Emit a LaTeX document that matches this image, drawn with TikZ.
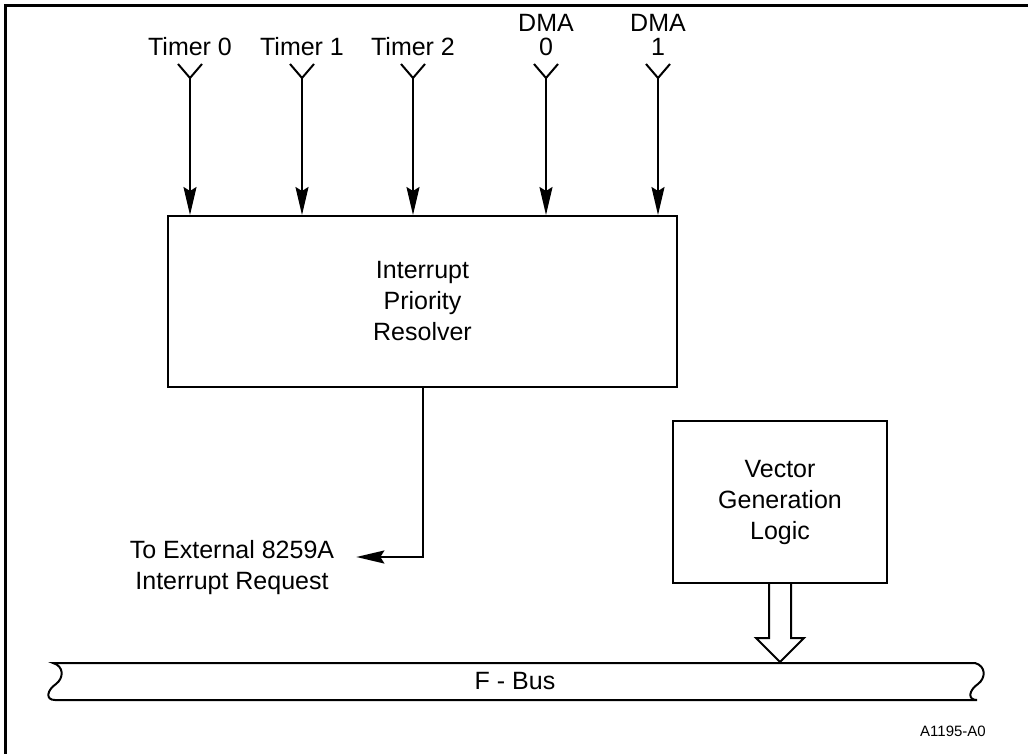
\documentclass[tikz,border=0pt]{standalone}
\usepackage{fontspec}
\setmainfont{Liberation Sans}
\usetikzlibrary{arrows.meta,positioning,calc}

\begin{document}
\begin{tikzpicture}[x=1pt, y=-1pt, >={Stealth[length=28pt, width=13pt, inset=4pt]},
    block/.style={rectangle, draw, line width=2pt, align=center, font=\fontsize{25}{31}\selectfont},
    lbl/.style={align=center, inner sep=0pt, font=\fontsize{25}{24}\selectfont},
    wire/.style={line width=2pt}]
    \useasboundingbox (0,0) rectangle (1028,754);
    \draw [line width=3pt] (5,754) -- (5,6) -- (1028,6);

    \node [block, minimum width=509pt, minimum height=171pt] (ipr) at (422.5,301.5) {Interrupt\\Priority\\Resolver};
    \node [block, minimum width=214pt, minimum height=162pt] (vgl) at (780,502) {Vector\\Generation\\Logic};

    % interrupt sources
    \foreach \px/\nm/\txt in {190/t0/{Timer 0}, 302/t1/{Timer 1}, 413/t2/{Timer 2}, 546/d0/{DMA\\0}, 658/d1/{DMA\\1}} {
        \node [lbl, anchor=south] (\nm) at (\px,56) {\txt};
        \coordinate (\nm-f) at (\px,78);
        \draw [wire] ($(\nm-f)+(-12,-14)$) -- (\nm-f) -- ++(12,-14);
        \draw [wire, ->] (\nm-f) -- (\nm-f |- ipr.north);
    }

    \node [lbl] (ext) at (232,568) {To External 8259A\\[7pt]Interrupt Request};
    \draw [wire, ->] (ipr.south) |- ([xshift=22pt, yshift=11pt]ext.east);

    % bus
    \draw [wire] (53,663) -- (975,663) .. controls (986,666) and (986,678) .. (978,684)
        .. controls (969,690) and (967,700) .. (977,700) -- (55,700)
        .. controls (45,700) and (47,690) .. (56,684)
        .. controls (64,678) and (64,666) .. (53,663) -- cycle;
    \node [lbl] (fbus) at (515,681) {F - Bus};
    \draw [wire, line join=miter] (vgl.south) ++(-11,0) -- ++(0,54) -- ++(-13,0) -- ++(24,24) -- ++(24,-24) -- ++(-13,0) -- ++(0,-54);

    \node [font=\fontsize{15}{18}\selectfont] (id) at (953,731) {A1195-A0};
\end{tikzpicture}
\end{document}
